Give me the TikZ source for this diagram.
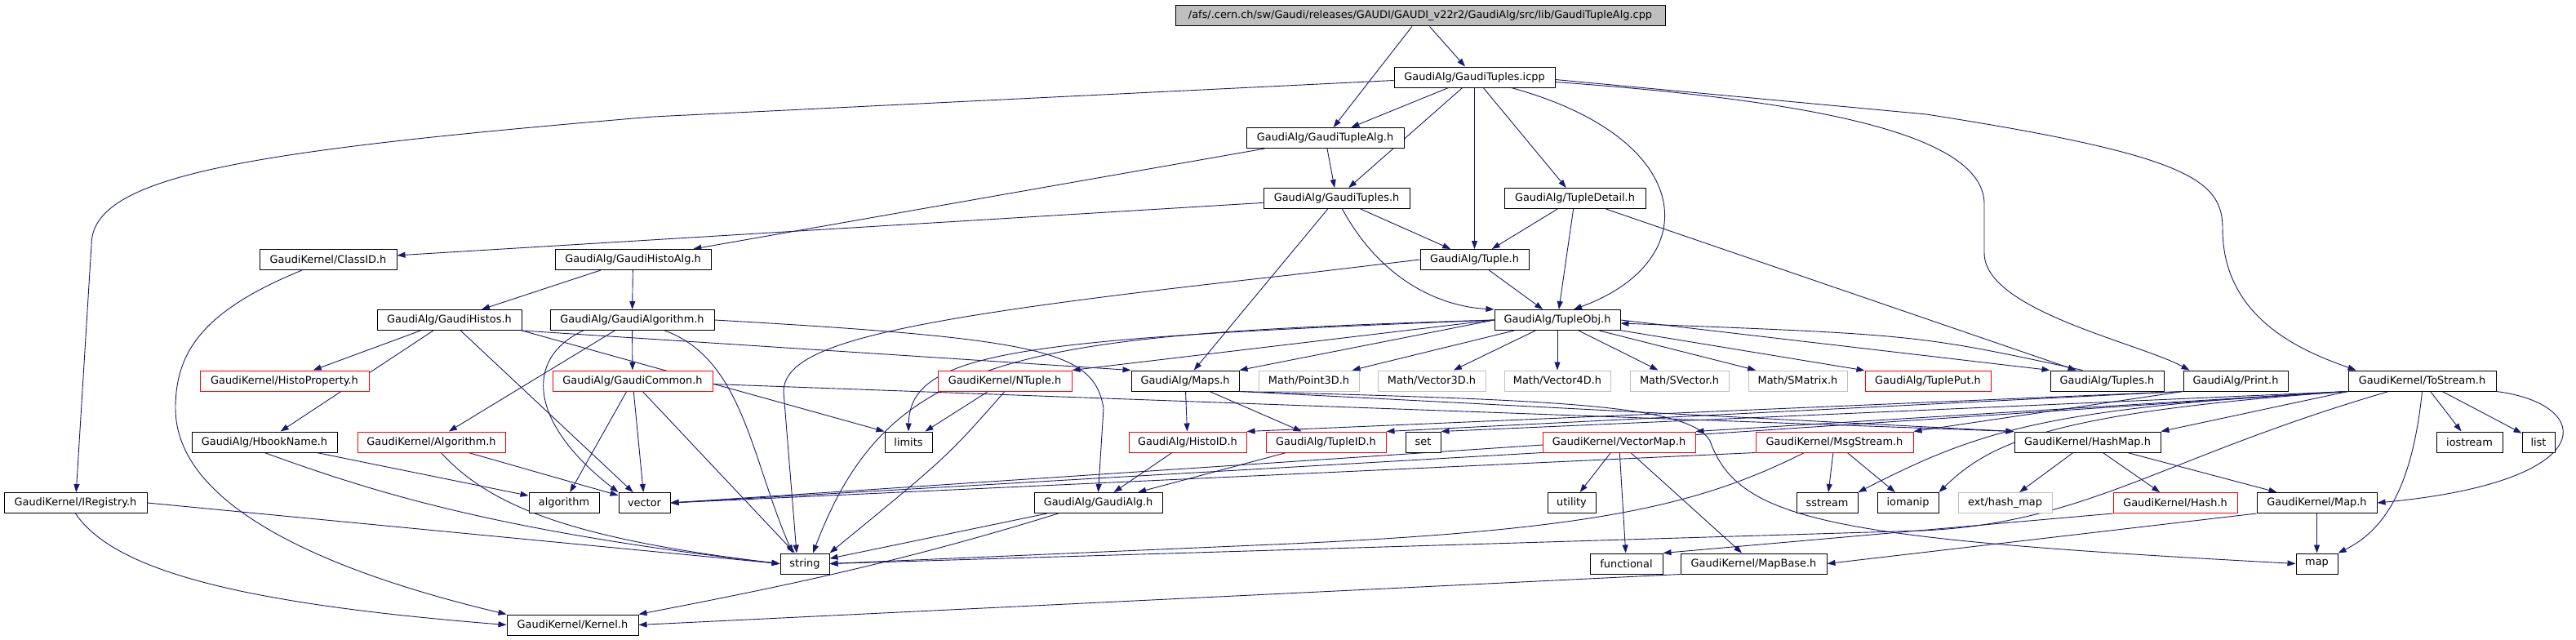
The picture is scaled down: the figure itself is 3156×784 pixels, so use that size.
\documentclass[tikz,border=0pt]{standalone}
\usepackage{fontspec}
\setmainfont{DejaVu Sans}
\usetikzlibrary{arrows.meta,backgrounds}
\definecolor{edgeblue}{HTML}{191970}
\definecolor{boxgray}{HTML}{BFBFBF}
\begin{document}
\begin{tikzpicture}[x=1pt,y=-1pt,
  box/.style={draw=black,fill=white,line width=1pt,inner sep=0pt,minimum height=25pt,font=\fontsize{12.9pt}{15pt}\selectfont},
  redbox/.style={box,draw=red},
  graybox/.style={box,draw=boxgray},
  dep/.style={draw=edgeblue,line width=0.9pt,-{Triangle[length=10pt,width=7pt]}}]
\useasboundingbox (0,0) rectangle (3156,784);
\node[box,minimum width=600pt,fill=boxgray] (root) at (1740,19.5) {/afs/.cern.ch/sw/Gaudi/releases/GAUDI/GAUDI\_v22r2/GaudiAlg/src/lib/GaudiTupleAlg.cpp};
\node[box,minimum width=197pt] (icpp) at (1806.5,94.5) {GaudiAlg/GaudiTuples.icpp};
\node[box,minimum width=193pt] (talg) at (1623.5,169) {GaudiAlg/GaudiTupleAlg.h};
\node[box,minimum width=179pt] (gtuples) at (1637.5,243) {GaudiAlg/GaudiTuples.h};
\node[box,minimum width=173pt] (tdetail) at (1929.5,243) {GaudiAlg/TupleDetail.h};
\node[box,minimum width=168pt] (classid) at (402,318) {GaudiKernel/ClassID.h};
\node[box,minimum width=191pt] (histoalg) at (775.5,318) {GaudiAlg/GaudiHistoAlg.h};
\node[box,minimum width=133pt] (tuple) at (1806.5,318) {GaudiAlg/Tuple.h};
\node[box,minimum width=177pt] (histos) at (550.5,392) {GaudiAlg/GaudiHistos.h};
\node[box,minimum width=201pt] (galgo) at (774.5,392) {GaudiAlg/GaudiAlgorithm.h};
\node[box,minimum width=154pt] (tobj) at (1908,392) {GaudiAlg/TupleObj.h};
\node[redbox,minimum width=207pt] (hprop) at (348.5,466.5) {GaudiKernel/HistoProperty.h};
\node[redbox,minimum width=196pt] (gcommon) at (775,466.5) {GaudiAlg/GaudiCommon.h};
\node[redbox,minimum width=164pt] (ntuple) at (1231,466.5) {GaudiKernel/NTuple.h};
\node[box,minimum width=132pt] (maps) at (1452,466.5) {GaudiAlg/Maps.h};
\node[graybox,minimum width=123pt] (point) at (1603.5,466.5) {Math/Point3D.h};
\node[graybox,minimum width=132pt] (vthree) at (1754,466.5) {Math/Vector3D.h};
\node[graybox,minimum width=130pt] (vfour) at (1908,466.5) {Math/Vector4D.h};
\node[graybox,minimum width=121pt] (svec) at (2057.5,466.5) {Math/SVector.h};
\node[graybox,minimum width=121pt] (smat) at (2202.5,466.5) {Math/SMatrix.h};
\node[redbox,minimum width=154pt] (tput) at (2362,466.5) {GaudiAlg/TuplePut.h};
\node[box,minimum width=139pt] (tuples) at (2581.5,466.5) {GaudiAlg/Tuples.h};
\node[box,minimum width=128pt] (print) at (2739,466.5) {GaudiAlg/Print.h};
\node[box,minimum width=181pt] (tostream) at (2967.5,466.5) {GaudiKernel/ToStream.h};
\node[box,minimum width=178pt] (hbook) at (324,541.5) {GaudiAlg/HbookName.h};
\node[redbox,minimum width=181pt] (kalgo) at (528.5,541.5) {GaudiKernel/Algorithm.h};
\node[box,minimum width=58pt] (limits) at (1113,541.5) {limits};
\node[redbox,minimum width=144pt] (histoid) at (1455,541.5) {GaudiAlg/HistoID.h};
\node[redbox,minimum width=147pt] (tupleid) at (1624.5,541.5) {GaudiAlg/TupleID.h};
\node[box,minimum width=43pt] (set) at (1743.5,541.5) {set};
\node[redbox,minimum width=187pt] (vmap) at (1983.5,541.5) {GaudiKernel/VectorMap.h};
\node[redbox,minimum width=193pt] (msg) at (2247.5,541.5) {GaudiKernel/MsgStream.h};
\node[box,minimum width=179pt] (hashmap) at (2557.5,541.5) {GaudiKernel/HashMap.h};
\node[box,minimum width=81pt] (iostream) at (3025.5,541.5) {iostream};
\node[box,minimum width=40pt] (list) at (3110,541.5) {list};
\node[box,minimum width=175pt] (ireg) at (92.5,616) {GaudiKernel/IRegistry.h};
\node[box,minimum width=86pt] (algorithm) at (691,616) {algorithm};
\node[box,minimum width=63pt] (vector) at (789.5,616) {vector};
\node[box,minimum width=157pt] (gaudialg) at (1345.5,616) {GaudiAlg/GaudiAlg.h};
\node[box,minimum width=59pt] (utility) at (1925.5,616) {utility};
\node[box,minimum width=75pt] (sstream) at (2238.5,616) {sstream};
\node[box,minimum width=75pt] (iomanip) at (2337.5,616) {iomanip};
\node[graybox,minimum width=115pt] (extmap) at (2456.5,616) {ext/hash\_map};
\node[redbox,minimum width=152pt] (hash) at (2665,616) {GaudiKernel/Hash.h};
\node[box,minimum width=147pt] (kmap) at (2838.5,616) {GaudiKernel/Map.h};
\node[box,minimum width=60pt] (string) at (986,690.5) {string};
\node[box,minimum width=89pt] (functional) at (1992.5,690.5) {functional};
\node[box,minimum width=179pt] (mapbase) at (2148.5,690.5) {GaudiKernel/MapBase.h};
\node[box,minimum width=51pt] (map) at (2838.5,690.5) {map};
\node[box,minimum width=161pt] (kernel) at (701.5,765.5) {GaudiKernel/Kernel.h};
\begin{scope}[on background layer]
\draw[dep] (root) -- (talg);
\draw[dep] (root) -- (icpp);
\draw[dep] (icpp) -- (talg);
\draw[dep] (icpp) -- (gtuples);
\draw[dep] (icpp) -- (tuple);
\draw[dep] (icpp) -- (tdetail);
\draw[dep] ([xshift=45pt]icpp.south) .. controls (2080,170) and (2090,320) .. ([xshift=20pt]tobj.north);
\draw[dep] ([yshift=-4pt]icpp.west) -- (800,143) .. controls (300,185) and (112,215) .. (112,300) -- (ireg);
\draw[dep] ([yshift=-3pt]icpp.east) -- (2360,140) .. controls (2680,190) and (2723,220) .. (2723,280) .. controls (2723,390) and (2820,430) .. ([xshift=10pt]tostream.north west);
\draw[dep] ([yshift=-6pt]icpp.east) .. controls (2250,125) and (2431,170) .. (2431,250) -- (2431,310) .. controls (2431,380) and (2620,420) .. ([xshift=8pt]print.north west);
\draw[dep] (talg) -- (gtuples);
\draw[dep] (talg) -- (histoalg);
\draw[dep] (gtuples) -- (classid);
\draw[dep] (gtuples) -- (tuple);
\draw[dep] (gtuples) .. controls (1690,340) and (1760,375) .. (tobj.north west);
\draw[dep] (gtuples) -- (maps);
\draw[dep] (tdetail) -- (tuple);
\draw[dep] (tdetail) -- (tobj);
\draw[dep] (tdetail) -- (tuples);
\draw[dep] (tuple) -- (tobj);
\draw[dep] (tuple.west) -- (1580,337) .. controls (1100,390) and (960,420) .. (960,480) -- ([xshift=-10pt]string.north);
\draw[dep] (classid) .. controls (250,380) and (215,430) .. (215,500) .. controls (215,620) and (400,700) .. (kernel.north west);
\draw[dep] (histoalg) -- (histos);
\draw[dep] (histoalg) -- (galgo);
\draw[dep] (histos) -- (hprop);
\draw[dep] (histos) -- (hbook);
\draw[dep] (histos) -- (vector);
\draw[dep] (histos.south east) -- (maps.north west);
\draw[dep] (histos.south east) -- (limits.north west);
\draw[dep] (galgo) -- (gcommon);
\draw[dep] (galgo) -- (kalgo);
\draw[dep] ([xshift=-60pt]galgo.south) .. controls (640,440) and (650,520) .. (vector.north west);
\draw[dep] ([xshift=40pt]galgo.south) .. controls (910,440) and (920,560) .. ([xshift=-15pt]string.north);
\draw[dep] (galgo.east) .. controls (1280,415) and (1340,430) .. (1352,500) -- (gaudialg.north);
\draw[dep] (gcommon) -- (algorithm);
\draw[dep] (gcommon) -- (vector);
\draw[dep] (gcommon) -- (string);
\draw[dep] ([yshift=-4pt]gcommon.east) -- (hashmap.north west);
\draw[dep] (tobj.west) .. controls (1250,415) and (1115,430) .. (limits.north);
\draw[dep] (tobj.west) .. controls (1250,410) and (1090,430) .. ([xshift=10pt]string.north);
\draw[dep] (tobj.west) -- (ntuple.north east);
\draw[dep] (tobj.west) -- (maps.north east);
\draw[dep] (tobj) -- (point);
\draw[dep] (tobj) -- (vthree);
\draw[dep] (tobj) -- (vfour);
\draw[dep] (tobj) -- (svec);
\draw[dep] (tobj) -- (smat);
\draw[dep] (tobj) -- (tput);
\draw[dep] (tobj.east) -- (tuples.north west);
\draw[dep] ([xshift=-30pt]tuples.north) .. controls (2350,410) .. ([yshift=-4pt]tobj.east);
\draw[dep] (ntuple) -- (limits);
\draw[dep] (ntuple.south) .. controls (1160,560) .. (string.north east);
\draw[dep] (maps) -- (histoid);
\draw[dep] (maps) -- (tupleid);
\draw[dep] (maps.south east) -- (hashmap.north west);
\draw[dep] (maps.south east) .. controls (1900,490) and (2070,495) .. (2095,540) .. controls (2130,640) and (2250,660) .. (map.west);
\draw[dep] (histoid) -- (gaudialg);
\draw[dep] (tupleid) -- (gaudialg);
\draw[dep] (print.south west) -- (histoid.north east);
\draw[dep] (print.south west) -- (tupleid.north east);
\draw[dep] (print.south west) -- (msg.north east);
\draw[dep] (tostream) -- (iostream);
\draw[dep] (tostream) -- (list);
\draw[dep] (tostream.south) .. controls (2955,600) and (2920,650) .. (map.north east);
\draw[dep] (tostream.south east) .. controls (3180,495) and (3190,590) .. (kmap.east);
\draw[dep] (tostream.south west) -- (hashmap.north east);
\draw[dep] (tostream.south west) .. controls (2500,500) and (2420,530) .. (sstream.north east);
\draw[dep] (tostream.south west) .. controls (2520,505) and (2440,540) .. (iomanip.north east);
\draw[dep] (tostream.south west) -- (set.north east);
\draw[dep] (tostream.south west) -- (vmap.north east);
\draw[dep] (tostream.south west) -- (vector.east);
\draw[dep] ([xshift=50pt]tostream.south west) .. controls (2650,560) and (2560,640) .. (2356,650) -- (string.east);
\draw[dep] (vmap) -- (utility);
\draw[dep] (vmap) -- (functional);
\draw[dep] (vmap) -- (mapbase);
\draw[dep] (vmap.south west) -- (vector.east);
\draw[dep] (msg) -- (sstream);
\draw[dep] (msg) -- (iomanip);
\draw[dep] (msg.south west) -- (vector.east);
\draw[dep] ([xshift=60pt]msg.south west) .. controls (2080,620) and (1950,650) .. (1560,667) -- (string.east);
\draw[dep] (hashmap) -- (extmap);
\draw[dep] (hashmap) -- (hash);
\draw[dep] (hashmap) -- (kmap);
\draw[dep] (hash.south west) -- (functional.north east);
\draw[dep] (kmap) -- (map);
\draw[dep] (kmap.south west) -- (mapbase.east);
\draw[dep] (mapbase.south west) -- (kernel.east);
\draw[dep] (gaudialg) -- (string);
\draw[dep] ([xshift=30pt]gaudialg.south west) .. controls (1100,690) and (950,720) .. (kernel.north east);
\draw[dep] (hbook) -- (algorithm);
\draw[dep] (hbook.south) .. controls (450,600) and (600,650) .. (string.west);
\draw[dep] (kalgo) -- (vector);
\draw[dep] (kalgo) .. controls (600,620) and (700,660) .. (string.west);
\draw[dep] (ireg.east) -- (string.west);
\draw[dep] (ireg.south) .. controls (140,700) and (300,740) .. (kernel.west);
\end{scope}
\end{tikzpicture}
\end{document}
